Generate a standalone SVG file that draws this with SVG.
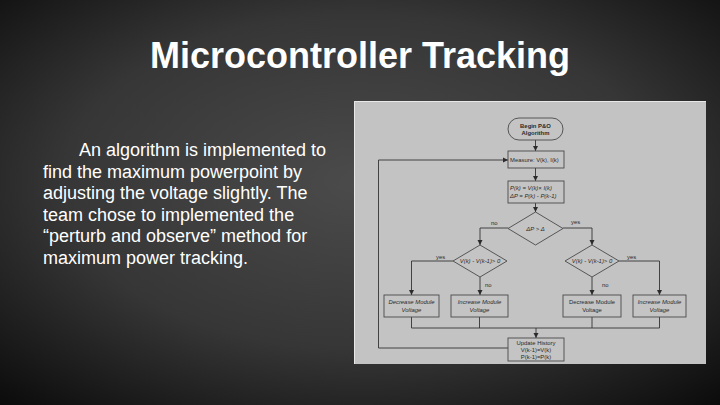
<svg xmlns="http://www.w3.org/2000/svg" width="720" height="405" viewBox="0 0 720 405">
  <defs>
    <radialGradient id="bg" cx="50%" cy="45%" r="75%" gradientUnits="objectBoundingBox">
      <stop offset="0" stop-color="#4b4b4b"/>
      <stop offset="0.55" stop-color="#363636"/>
      <stop offset="1" stop-color="#0a0a0a"/>
    </radialGradient>
    <marker id="arr" markerWidth="6" markerHeight="6" refX="5" refY="3" orient="auto" markerUnits="userSpaceOnUse">
      <path d="M0,0.5 L5,3 L0,5.5 Z" fill="#2b2b2b"/>
    </marker>
  </defs>
  <style>
    .title { font-family: "Liberation Sans", Arial, sans-serif; font-weight: bold; font-size: 36px; fill: #ffffff; }
    .body { font-family: "Liberation Sans", Arial, sans-serif; font-size: 18px; fill: #ffffff; }
    .box { fill: #c4c4c4; stroke: #4a4a4a; stroke-width: 0.9; }
    .t { font-family: "Liberation Sans", Arial, sans-serif; font-size: 5.9px; fill: #2a2a2a; }
    .b { font-weight: bold; }
    .i { font-style: italic; }
    .c { text-anchor: middle; }
    .line { fill: none; stroke: #333333; stroke-width: 0.9; }
  </style>

  <rect x="0" y="0" width="720" height="405" fill="url(#bg)"/>

  <text class="title" x="360" y="68" text-anchor="middle">Microcontroller Tracking</text>

  <g id="body-text">
    <text class="body" x="79" y="156">An algorithm is implemented to</text>
    <text class="body" x="43" y="177.5">find the maximum powerpoint by</text>
    <text class="body" x="43" y="199">adjusting the voltage slightly. The</text>
    <text class="body" x="43" y="220.5">team chose to implemented the</text>
    <text class="body" x="43" y="242">“perturb and observe” method for</text>
    <text class="body" x="43" y="263.5">maximum power tracking.</text>
  </g>

  <rect id="panel" x="354" y="101" width="352" height="263" fill="#c3c3c3"/>
  <path d="M354.5,364 V101.5 H706" fill="none" stroke="#e8e8e8" stroke-width="1"/>

  <g id="connectors">
    <path class="line" d="M535.5,140 V151" marker-end="url(#arr)"/>
    <path class="line" d="M535.5,168 V181" marker-end="url(#arr)"/>
    <path class="line" d="M535.5,203 V212" marker-end="url(#arr)"/>
    <path class="line" d="M508,228 H480 V245" marker-end="url(#arr)"/>
    <path class="line" d="M563,228 H592 V245" marker-end="url(#arr)"/>
    <path class="line" d="M453,261 H411.5 V295" marker-end="url(#arr)"/>
    <path class="line" d="M480,277 V295" marker-end="url(#arr)"/>
    <path class="line" d="M592,277 V295" marker-end="url(#arr)"/>
    <path class="line" d="M619,261 H659.5 V295" marker-end="url(#arr)"/>
    <path class="line" d="M411.5,317 V328 H659.5 V317"/>
    <path class="line" d="M479.5,317 V328"/>
    <path class="line" d="M592,317 V328"/>
    <path class="line" d="M536,328 V338" marker-end="url(#arr)"/>
    <path class="line" d="M508,348 H378.5 V160 H508" marker-end="url(#arr)"/>
    <text class="t" x="491" y="224.5">no</text>
    <text class="t" x="571" y="224">yes</text>
    <text class="t" x="436" y="258.5">yes</text>
    <text class="t" x="485" y="286.5">no</text>
    <text class="t" x="602" y="286.5">no</text>
    <text class="t" x="627" y="258.5">yes</text>
  </g>

  <g id="begin">
    <rect class="box" x="508" y="118" width="55" height="22" rx="11" ry="11"/>
    <text class="t b c" x="535.5" y="127.5">Begin P&amp;O</text>
    <text class="t b c" x="535.5" y="135">Algorithm</text>
  </g>

  <g id="measure">
    <rect class="box" x="508" y="151" width="56" height="17"/>
    <text class="t" x="510" y="161.5">Measure: V(k), I(k)</text>
  </g>

  <g id="compute">
    <rect class="box" x="508" y="181" width="56" height="22"/>
    <text class="t i" x="510" y="190">P(k) = V(k)× I(k)</text>
    <text class="t i" x="510" y="198">ΔP = P(k) - P(k-1)</text>
  </g>

  <g id="decision-dp">
    <polygon class="box" points="535.5,212 563,228.5 535.5,245 508,228.5"/>
    <text class="t i c" x="535.5" y="230.5">ΔP &gt; Δ</text>
  </g>

  <g id="decision-left">
    <polygon class="box" points="480,245 507,261 480,277 453,261"/>
    <text class="t i c" x="480" y="263">V(k) - V(k-1)&gt; 0</text>
  </g>

  <g id="decision-right">
    <polygon class="box" points="592,245 619,261 592,277 565,261"/>
    <text class="t i c" x="592" y="263">V(k) - V(k-1)&gt; 0</text>
  </g>

  <g id="decrease-left">
    <rect class="box" x="384" y="295" width="55" height="22"/>
    <text class="t i c" x="411.5" y="304">Decrease Module</text>
    <text class="t i c" x="411.5" y="312">Voltage</text>
  </g>

  <g id="increase-left">
    <rect class="box" x="451" y="295" width="57" height="22"/>
    <text class="t i c" x="479.5" y="304">Increase Module</text>
    <text class="t i c" x="479.5" y="312">Voltage</text>
  </g>

  <g id="decrease-right">
    <rect class="box" x="563" y="295" width="58" height="22"/>
    <text class="t c" x="592" y="304">Decrease Module</text>
    <text class="t c" x="592" y="312">Voltage</text>
  </g>

  <g id="increase-right">
    <rect class="box" x="633" y="295" width="53" height="22"/>
    <text class="t i c" x="659.5" y="304">Increase Module</text>
    <text class="t i c" x="659.5" y="312">Voltage</text>
  </g>

  <g id="update">
    <rect class="box" x="508" y="338" width="56" height="23"/>
    <text class="t c" x="536" y="344.5">Update History</text>
    <text class="t c" x="536" y="351.5">V(k-1)=V(k)</text>
    <text class="t c" x="536" y="358.5">P(k-1)=P(k)</text>
  </g>
</svg>
